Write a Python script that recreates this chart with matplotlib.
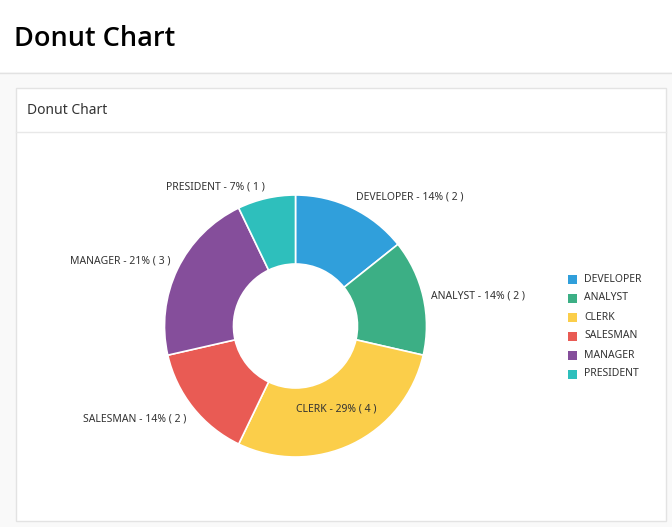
import matplotlib
matplotlib.use("Agg")
import matplotlib.pyplot as plt
from matplotlib.patches import Rectangle
import numpy as np

categories = ["DEVELOPER", "ANALYST", "CLERK", "SALESMAN", "MANAGER", "PRESIDENT"]
counts = [2, 2, 4, 2, 3, 1]
colors = ["#309FDB", "#3CAF85", "#FBCE4A", "#E95B54", "#854E9B", "#2EBFBC"]
inside_labels = ["CLERK"]

# per-label vertical layout nudges (pixels, positive = down)
label_nudge_px = [-3.5, 1, -1, 6, -4.5, -3]

W, H = 672, 527
DPI = 100
plt.rcParams["font.family"] = ["Noto Sans", "DejaVu Sans"]

fig = plt.figure(figsize=(W / DPI, H / DPI), dpi=DPI)
fig.patch.set_facecolor("#f9f9f9")


def fx(px):
    return px / W


def fy(py):
    return 1 - py / H


# page header
fig.patches.append(Rectangle((0, fy(72)), 1, 72 / H, transform=fig.transFigure,
                             facecolor="white", edgecolor="none", zorder=0))
fig.add_artist(plt.Line2D([0, 1], [fy(72.5), fy(72.5)], transform=fig.transFigure,
                          color="#e2e2e2", lw=1))
fig.text(fx(14), fy(39), "Donut Chart", fontsize=19.5, fontweight="semibold",
         family=["Open Sans", "Noto Sans", "DejaVu Sans"],
         color="#000000", va="center", ha="left")

# card
fig.patches.append(Rectangle((fx(15.5), fy(521)), (666 - 15.5) / W, (521 - 87.5) / H,
                             transform=fig.transFigure, facecolor="white",
                             edgecolor="#e3e3e3", lw=1, zorder=0))
fig.add_artist(plt.Line2D([fx(16), fx(665.5)], [fy(131.5), fy(131.5)],
                          transform=fig.transFigure, color="#e8e8e8", lw=1))
fig.text(fx(27), fy(110), "Donut Chart", fontsize=10, color="#333333",
         va="center", ha="left")

# donut
cx, cy, R, r_in = 295.5, 326, 131, 62
half = 160
ax = fig.add_axes([fx(cx - half), fy(cy + half), 2 * half / W, 2 * half / H])
ax.set_zorder(5)
ax.patch.set_visible(False)

wedges, _ = ax.pie(counts, colors=colors, startangle=90, counterclock=False,
                   radius=1.0, wedgeprops=dict(width=(R - r_in) / R,
                                               edgecolor="white", linewidth=1.2))
ax.set_xlim(-half / R, half / R)
ax.set_ylim(-half / R, half / R)
ax.set_aspect("equal")
ax.axis("off")

total = sum(counts)
for w, cat, n, nud in zip(wedges, categories, counts, label_nudge_px):
    ang = np.deg2rad((w.theta1 + w.theta2) / 2)
    pct = round(100 * n / total)
    label = f"{cat} - {pct}% ( {n} )"
    dy = -nud / R
    if cat in inside_labels:
        rr = 93 / R
        ax.text(rr * np.cos(ang), rr * np.sin(ang) + dy, label, ha="center",
                va="center", fontsize=7.5, color="#333333")
    else:
        rr = 139 / R
        x, y = rr * np.cos(ang), rr * np.sin(ang)
        ax.text(x, y + dy, label, ha="left" if x >= 0 else "right", va="center",
                fontsize=7.5, color="#333333")

# legend
for i, (cat, col) in enumerate(zip(categories, colors)):
    yy = 279 + 19 * i
    fig.patches.append(Rectangle((fx(568), fy(yy + 4.5)), 9 / W, 9 / H,
                                 transform=fig.transFigure, facecolor=col,
                                 edgecolor="none", zorder=3))
    fig.text(fx(584), fy(yy), cat, fontsize=7.5, color="#333333",
             va="center", ha="left", zorder=3)

fig.savefig("out.png", dpi=DPI, facecolor=fig.get_facecolor())
